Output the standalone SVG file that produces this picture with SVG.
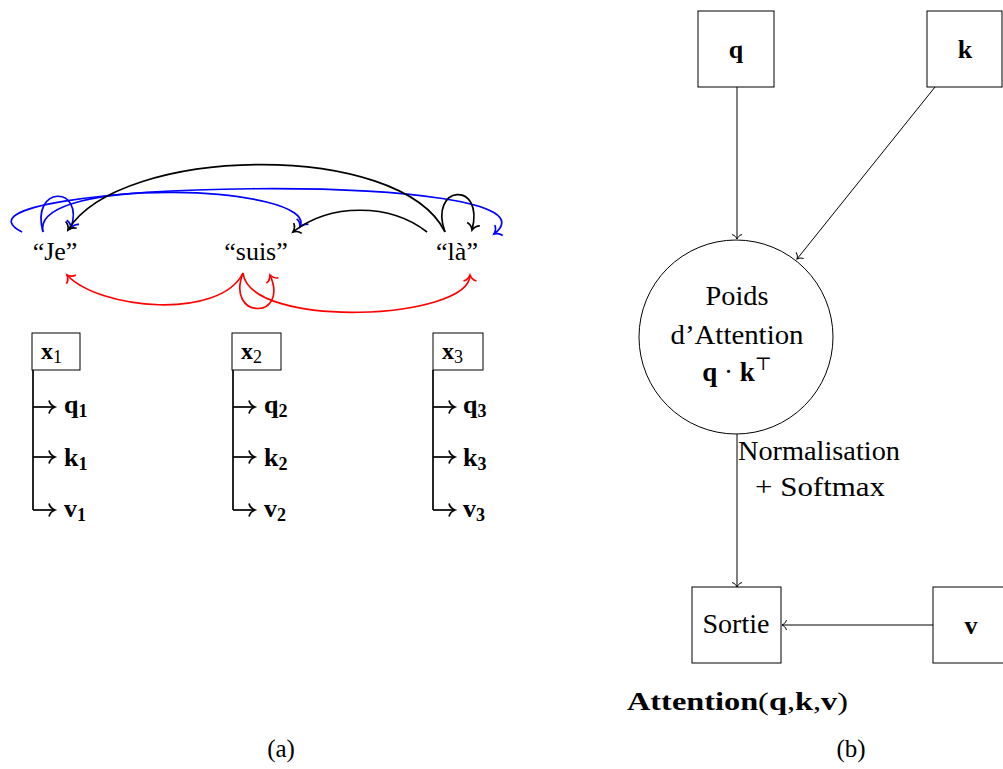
<svg xmlns="http://www.w3.org/2000/svg" width="1003" height="769" viewBox="0 0 1003 769">
<style>
text{font-family:"Liberation Serif","DejaVu Serif",serif;fill:#000}
.t{font-size:27px}
.w{font-size:26px}
.b{font-weight:bold}
.box{fill:#fff;stroke:#000;stroke-width:1}
.thin{fill:none;stroke:#000;stroke-width:1}
.k{fill:none;stroke:#000;stroke-width:1.7}
.bl{fill:none;stroke:#0000ff;stroke-width:1.7}
.rd{fill:none;stroke:#ff0000;stroke-width:1.7}
</style>
<defs>
<marker id="mk" markerUnits="userSpaceOnUse" orient="auto" overflow="visible" markerWidth="20" markerHeight="20"><path d="M-6,-6.5 C-5,-2.5 -1.5,-0.6 0,0 C-1.5,0.6 -5,2.5 -6,6.5" fill="none" stroke="#000" stroke-width="1.7"/></marker>
<marker id="mb" markerUnits="userSpaceOnUse" orient="auto" overflow="visible" markerWidth="20" markerHeight="20"><path d="M-6,-6.5 C-5,-2.5 -1.5,-0.6 0,0 C-1.5,0.6 -5,2.5 -6,6.5" fill="none" stroke="#0000ff" stroke-width="1.7"/></marker>
<marker id="mr" markerUnits="userSpaceOnUse" orient="auto" overflow="visible" markerWidth="20" markerHeight="20"><path d="M-6,-6.5 C-5,-2.5 -1.5,-0.6 0,0 C-1.5,0.6 -5,2.5 -6,6.5" fill="none" stroke="#ff0000" stroke-width="1.7"/></marker>
<marker id="mt" markerUnits="userSpaceOnUse" orient="auto" overflow="visible" markerWidth="20" markerHeight="20"><path d="M-4.5,-5 C-3.8,-2 -1.2,-0.5 0,0 C-1.2,0.5 -3.8,2 -4.5,5" fill="none" stroke="#000" stroke-width="1"/></marker>
</defs>

<!-- (a) words -->
<g id="word-je"><text class="w" x="55" y="260" text-anchor="middle">“Je”</text></g>
<g id="word-suis"><text class="w" x="256" y="260" text-anchor="middle">“suis”</text></g>
<g id="word-la"><text class="w" x="457" y="260" text-anchor="middle">“là”</text></g>

<!-- (a) token boxes -->
<g id="x1"><rect class="box" x="32" y="333" width="48" height="37"/><text x="41" y="359" font-size="24" class="b">x<tspan font-size="18" font-weight="normal" dy="4">1</tspan></text></g>
<g id="x2"><rect class="box" x="232" y="333" width="49" height="37"/><text x="241" y="359" font-size="24" class="b">x<tspan font-size="18" font-weight="normal" dy="4">2</tspan></text></g>
<g id="x3"><rect class="box" x="433" y="333" width="50" height="37"/><text x="442" y="359" font-size="24" class="b">x<tspan font-size="18" font-weight="normal" dy="4">3</tspan></text></g>

<g id="qkv1">
<text x="64" y="413" font-size="26" class="b">q<tspan font-size="18" dy="4">1</tspan></text>
<text x="64" y="466" font-size="26" class="b">k<tspan font-size="18" dy="4">1</tspan></text>
<text x="64" y="517" font-size="26" class="b">v<tspan font-size="18" dy="4">1</tspan></text>
</g>
<g id="qkv2">
<text x="264" y="413" font-size="26" class="b">q<tspan font-size="18" dy="4">2</tspan></text>
<text x="264" y="466" font-size="26" class="b">k<tspan font-size="18" dy="4">2</tspan></text>
<text x="264" y="517" font-size="26" class="b">v<tspan font-size="18" dy="4">2</tspan></text>
</g>
<g id="qkv3">
<text x="463" y="413" font-size="26" class="b">q<tspan font-size="18" dy="4">3</tspan></text>
<text x="463" y="466" font-size="26" class="b">k<tspan font-size="18" dy="4">3</tspan></text>
<text x="463" y="517" font-size="26" class="b">v<tspan font-size="18" dy="4">3</tspan></text>
</g>

<!-- (b) nodes -->
<g id="q-node"><rect class="box" x="698" y="11" width="76" height="76"/><text x="736" y="58" font-size="26" class="b" text-anchor="middle">q</text></g>
<g id="k-node"><rect class="box" x="927" y="11" width="75" height="76"/><text x="965" y="58" font-size="26" class="b" text-anchor="middle">k</text></g>
<g id="weights-node"><circle class="box" cx="736" cy="337" r="97"/>
<text class="t" x="737" y="305" text-anchor="middle" textLength="63" lengthAdjust="spacingAndGlyphs">Poids</text>
<text class="t" x="737" y="344" text-anchor="middle" textLength="133" lengthAdjust="spacingAndGlyphs">d’Attention</text>
<text x="737" y="381" font-size="27" text-anchor="middle"><tspan class="b">q</tspan> · <tspan class="b">k</tspan><tspan font-size="18" dy="-11">⊤</tspan></text>
</g>
<g id="sortie-node"><rect class="box" x="692" y="587" width="89" height="76"/><text class="t" x="736" y="633" text-anchor="middle" textLength="67" lengthAdjust="spacingAndGlyphs">Sortie</text></g>
<g id="v-node"><rect class="box" x="933" y="587" width="80" height="76"/><text x="971" y="634" font-size="26" class="b" text-anchor="middle">v</text></g>

<g id="labels">
<text class="t" x="738" y="460" textLength="162" lengthAdjust="spacingAndGlyphs">Normalisation</text>
<text class="t" x="755" y="496" textLength="130" lengthAdjust="spacingAndGlyphs">+ Softmax</text>
<text x="627" y="710" font-size="26" textLength="221" lengthAdjust="spacingAndGlyphs"><tspan class="b">Attention</tspan>(<tspan class="b">q</tspan>,<tspan class="b">k</tspan>,<tspan class="b">v</tspan>)</text>
<text x="281" y="757" text-anchor="middle" font-size="25">(a)</text>
<text x="851" y="757" text-anchor="middle" font-size="25">(b)</text>
</g>

<g id="connectors">
<!-- blue -->
<path class="bl" d="M22,232 C-80,180 580,168 494,234" marker-end="url(#mb)"/>
<path class="bl" d="M43,232 C30,175 320,185 300,227" marker-end="url(#mb)"/>
<path class="bl" d="M43,232 C30,185 85,185 71,228" marker-end="url(#mb)"/>
<!-- black -->
<path class="k" d="M445,232 C400,140 120,145 68,230" marker-end="url(#mk)"/>
<path class="k" d="M427,232 C390,203 330,203 293,232" marker-end="url(#mk)"/>
<path class="k" d="M445,232 C428,185 485,180 472,230" marker-end="url(#mk)"/>
<!-- red -->
<path class="rd" d="M243,273 C220,320 100,310 67,275" marker-end="url(#mr)"/>
<path class="rd" d="M243,273 C225,320 290,320 270,275" marker-end="url(#mr)"/>
<path class="rd" d="M243,273 C250,330 470,320 470,275" marker-end="url(#mr)"/>
<!-- token branches -->
<path class="k" d="M33,370 V510"/>
<path class="k" d="M33,407 H55" marker-end="url(#mk)"/>
<path class="k" d="M33,457 H55" marker-end="url(#mk)"/>
<path class="k" d="M33,510 H55" marker-end="url(#mk)"/>
<path class="k" d="M233,370 V510"/>
<path class="k" d="M233,407 H255" marker-end="url(#mk)"/>
<path class="k" d="M233,457 H255" marker-end="url(#mk)"/>
<path class="k" d="M233,510 H255" marker-end="url(#mk)"/>
<path class="k" d="M433,370 V510"/>
<path class="k" d="M433,407 H455" marker-end="url(#mk)"/>
<path class="k" d="M433,457 H455" marker-end="url(#mk)"/>
<path class="k" d="M433,510 H455" marker-end="url(#mk)"/>
<!-- (b) -->
<path class="thin" d="M737,87 V239" marker-end="url(#mt)"/>
<path class="thin" d="M935,87 L797,259" marker-end="url(#mt)"/>
<path class="thin" d="M737,434 V587" marker-end="url(#mt)"/>
<path class="thin" d="M933,625 H782" marker-end="url(#mt)"/>
</g>
</svg>
